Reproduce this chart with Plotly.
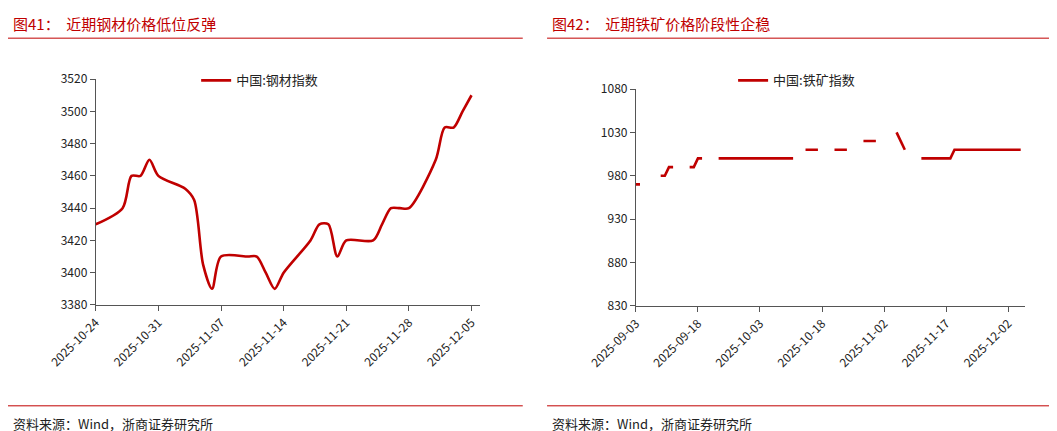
import plotly.graph_objects as go
import pandas as pd

# 图41 钢材指数
steel_dates = ["2025-10-24", "2025-10-27", "2025-10-28", "2025-10-29", "2025-10-30", "2025-10-31",
               "2025-11-03", "2025-11-04", "2025-11-05", "2025-11-06", "2025-11-07", "2025-11-10",
               "2025-11-11", "2025-11-12", "2025-11-13", "2025-11-14", "2025-11-17", "2025-11-18",
               "2025-11-19", "2025-11-20", "2025-11-21", "2025-11-24", "2025-11-25", "2025-11-26",
               "2025-11-27", "2025-11-28", "2025-12-01", "2025-12-02", "2025-12-03", "2025-12-04",
               "2025-12-05"]
steel_vals = [3430, 3440, 3460, 3460, 3470, 3460,
              3452, 3445, 3405, 3390, 3410, 3410,
              3410, 3400, 3390, 3400, 3420, 3430,
              3430, 3410, 3420, 3420, 3430, 3440,
              3440, 3440, 3470, 3490, 3490, 3500,
              3510]

# 图42 铁矿指数 (None = 无数据)
ore_dates = ["2025-09-03", "2025-09-04", "2025-09-05", "2025-09-08", "2025-09-09", "2025-09-10",
             "2025-09-11", "2025-09-12", "2025-09-15", "2025-09-16", "2025-09-17", "2025-09-18",
             "2025-09-19", "2025-09-22", "2025-09-23", "2025-10-11", "2025-10-13", "2025-10-14",
             "2025-10-17", "2025-10-20", "2025-10-21", "2025-10-24", "2025-10-27", "2025-10-28",
             "2025-10-31", "2025-11-03", "2025-11-05", "2025-11-07", "2025-11-10", "2025-11-11",
             "2025-11-18", "2025-11-19", "2025-12-05"]
ore_vals = [970, 970, None, None, 980, 980,
            990, 990, None, 990, 990, 1000,
            1000, None, 1000, 1000, None, 1010,
            1010, None, 1010, 1010, None, 1020,
            1020, None, 1030, 1010, None, 1000,
            1000, 1010, 1010]

RED = "#c00000"
FONT = "Noto Sans CJK SC"

fig = go.Figure()
fig.add_trace(go.Scatter(x=pd.to_datetime(steel_dates), y=steel_vals, mode="lines",
                         line=dict(color=RED, width=2.6, shape="spline", smoothing=0.8),
                         name="中国:钢材指数", xaxis="x", yaxis="y", legend="legend",
                         showlegend=True))
fig.add_trace(go.Scatter(x=pd.to_datetime(ore_dates), y=ore_vals, mode="lines",
                         line=dict(color=RED, width=2.6), connectgaps=False,
                         name="中国:铁矿指数", xaxis="x2", yaxis="y2", legend="legend2",
                         showlegend=True))

ax = dict(showgrid=False, zeroline=False, showline=True, linecolor="#555", linewidth=1,
          ticks="outside", ticklen=5, tickcolor="#555", tickfont=dict(size=12, color="#222"))

fig.update_layout(
    width=1057, height=431, margin=dict(l=0, r=0, t=0, b=0, autoexpand=False),
    paper_bgcolor="white", plot_bgcolor="white", showlegend=True,
    font=dict(family=FONT, color="#222"),
    xaxis=dict(ax, domain=[0.083, 0.447], range=["2025-10-24", "2025-12-06"],
               tickvals=pd.to_datetime(["2025-10-24", "2025-10-31", "2025-11-07", "2025-11-14",
                                        "2025-11-21", "2025-11-28", "2025-12-05"]),
               tickformat="%Y-%m-%d", tickangle=-45, anchor="y"),
    yaxis=dict(ax, domain=[0.311, 0.835], range=[3380, 3520], dtick=20, anchor="x"),
    xaxis2=dict(ax, domain=[0.594, 0.962], range=["2025-09-03", "2025-12-06"],
                tickvals=pd.to_datetime(["2025-09-03", "2025-09-18", "2025-10-03", "2025-10-18",
                                         "2025-11-02", "2025-11-17", "2025-12-02"]),
                tickformat="%Y-%m-%d", tickangle=-45, anchor="y2"),
    yaxis2=dict(ax, domain=[0.309, 0.812], range=[830, 1080], tick0=830, dtick=50, anchor="x2"),
    legend=dict(x=0.178, y=0.832, xanchor="left", yanchor="middle", bgcolor="rgba(0,0,0,0)",
                font=dict(size=13, color="#222")),
    legend2=dict(x=0.686, y=0.832, xanchor="left", yanchor="middle", bgcolor="rgba(0,0,0,0)",
                 font=dict(size=13, color="#222")),
)

titles = [(0.003, "图41：  近期钢材价格低位反弹"), (0.513, "图42：  近期铁矿价格阶段性企稳")]
for x0, t in titles:
    fig.add_annotation(text=t, x=x0, y=0.965, xref="paper", yref="paper", xanchor="left",
                       yanchor="middle", showarrow=False, font=dict(size=15, color=RED, family=FONT))
    fig.add_annotation(text="资料来源：Wind，浙商证券研究所", x=x0, y=0.035, xref="paper", yref="paper",
                       xanchor="left", yanchor="middle", showarrow=False,
                       font=dict(size=13, color="#222", family=FONT))
for a, b in [(0.0, 0.487), (0.510, 0.997)]:
    fig.add_shape(type="line", xref="paper", yref="paper", x0=a, x1=b, y0=0.93, y1=0.93,
                  line=dict(color=RED, width=1))
    fig.add_shape(type="line", xref="paper", yref="paper", x0=a, x1=b, y0=0.077, y1=0.077,
                  line=dict(color=RED, width=1))

fig.write_html("out.html")
